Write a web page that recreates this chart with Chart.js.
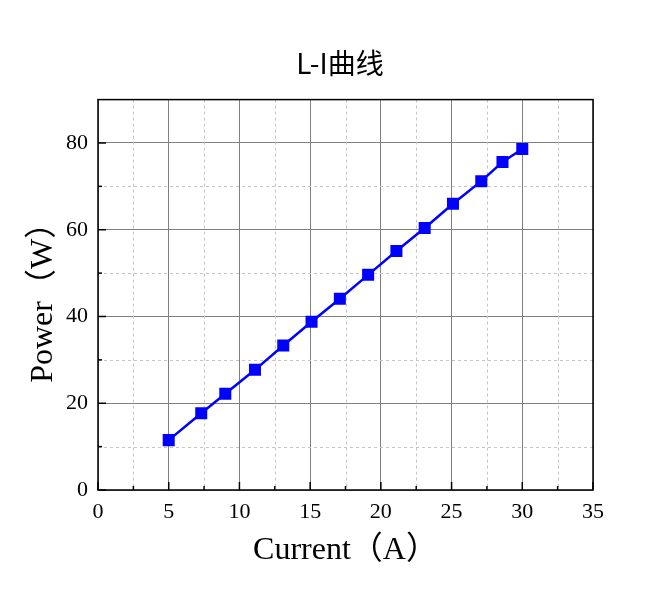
<!DOCTYPE html>
<html>
<head>
<meta charset="utf-8">
<title>L-I曲线</title>
<script src="https://cdn.jsdelivr.net/npm/chart.js@4.4.1/dist/chart.umd.min.js"></script>
<style>
    html, body { margin: 0; padding: 0; background: #fff; }
    #wrap { width: 666px; height: 590px; position: relative; }
</style>
</head>
<body>
<div id="wrap"><canvas id="chart"></canvas></div>
<script>
// values
const currentA = [5, 7.3, 9, 11.1, 13.1, 15.1, 17.1, 19.1, 21.1, 23.1, 25.1, 27.1, 28.6, 30];
const powerW   = [11.5, 17.7, 22.2, 27.7, 33.3, 38.8, 44.1, 49.6, 55.1, 60.4, 66.0, 71.2, 75.6, 78.6];

const xTickValues = [0, 5, 10, 15, 20, 25, 30, 35];
const yTickValues = [0, 20, 40, 60, 80];
const xRange = [0, 35];
const yRange = [0, 90];

const serif = "'Liberation Serif', 'Times New Roman', 'Noto Sans CJK SC', serif";

// minor values sit halfway between majors (and one past the last y major)
function minorValues(majors, max) {
    const out = [];
    const step = majors[1] - majors[0];
    for (let i = 0; i < majors.length; i++) {
        const m = majors[i] + step / 2;
        if (m < max) out.push(m);
    }
    return out;
}

// Origin-style frame: dotted minor grid, inward ticks, black box
const framePlugin = {
    id: 'frame',
    beforeDatasetsDraw(chart) {
        const {ctx, chartArea: a, scales: {x, y}} = chart;
        ctx.save();
        ctx.strokeStyle = '#c4c4c4';
        ctx.lineWidth = 1;
        ctx.setLineDash([3, 3]);
        minorValues(xTickValues, xRange[1]).forEach(v => {
            const px = Math.round(x.getPixelForValue(v)) + 0.5;
            ctx.beginPath(); ctx.moveTo(px, a.top); ctx.lineTo(px, a.bottom); ctx.stroke();
        });
        minorValues(yTickValues, yRange[1]).forEach(v => {
            const py = Math.round(y.getPixelForValue(v)) + 0.5;
            ctx.beginPath(); ctx.moveTo(a.left, py); ctx.lineTo(a.right, py); ctx.stroke();
        });
        ctx.restore();
    },
    afterDraw(chart) {
        const {ctx, chartArea: a, scales: {x, y}} = chart;
        ctx.save();
        ctx.strokeStyle = '#000';
        ctx.lineWidth = 1.5;
        ctx.setLineDash([]);
        // ticks pointing into the plot
        xTickValues.forEach(v => {
            const px = x.getPixelForValue(v);
            ctx.beginPath(); ctx.moveTo(px, a.bottom); ctx.lineTo(px, a.bottom - 8); ctx.stroke();
        });
        minorValues(xTickValues, xRange[1]).forEach(v => {
            const px = x.getPixelForValue(v);
            ctx.beginPath(); ctx.moveTo(px, a.bottom); ctx.lineTo(px, a.bottom - 4); ctx.stroke();
        });
        yTickValues.forEach(v => {
            const py = y.getPixelForValue(v);
            ctx.beginPath(); ctx.moveTo(a.left, py); ctx.lineTo(a.left + 8, py); ctx.stroke();
        });
        minorValues(yTickValues, yRange[1]).forEach(v => {
            const py = y.getPixelForValue(v);
            ctx.beginPath(); ctx.moveTo(a.left, py); ctx.lineTo(a.left + 4, py); ctx.stroke();
        });
        ctx.strokeRect(a.left, a.top, a.right - a.left, a.bottom - a.top);
        ctx.restore();
    }
};

const ctx = document.getElementById('chart').getContext('2d');

new Chart(ctx, {
    type: 'line',
    data: {
        datasets: [{
            label: 'Power',
            data: currentA.map((c, i) => ({x: c, y: powerW[i]})),
            borderColor: '#0000ff',
            backgroundColor: '#0000ff',
            borderWidth: 2.5,
            pointStyle: 'rect',
            pointRadius: 8.5,
            pointBorderWidth: 0,
            pointBackgroundColor: '#0000ff',
            tension: 0
        }]
    },
    options: {
        responsive: true,
        maintainAspectRatio: false,
        animation: false,
        layout: { padding: { left: 14, right: 0, top: 0, bottom: 0 } },
        plugins: {
            legend: { display: false },
            tooltip: { enabled: false },
            title: {
                display: true,
                text: 'L-I曲线',
                color: '#000',
                font: { family: "'Noto Sans CJK SC', 'Liberation Sans', sans-serif", size: 28, weight: 'normal', lineHeight: 1.2 },
                padding: { top: 47, bottom: 19 }
            }
        },
        scales: {
            x: {
                type: 'linear',
                min: xRange[0],
                max: xRange[1],
                afterBuildTicks: s => { s.ticks = xTickValues.map(v => ({value: v})); },
                afterFit: s => { s.height = 100; },
                grid: { color: '#808080', lineWidth: 1, drawTicks: false },
                border: { display: false },
                ticks: { color: '#000', padding: 9, font: { family: serif, size: 22 } },
                title: {
                    display: true,
                    text: 'Current（A）',
                    color: '#000',
                    font: { family: serif, size: 32, lineHeight: 1.2 },
                    padding: { top: 0, bottom: 20 }
                }
            },
            y: {
                type: 'linear',
                min: yRange[0],
                max: yRange[1],
                afterBuildTicks: s => { s.ticks = yTickValues.map(v => ({value: v})); },
                afterFit: s => { s.width = 84; },
                grid: { color: '#808080', lineWidth: 1, drawTicks: false },
                border: { display: false },
                ticks: { color: '#000', padding: 10, font: { family: serif, size: 22 } },
                title: {
                    display: true,
                    text: 'Power（W）',
                    color: '#000',
                    font: { family: serif, size: 32, lineHeight: 1.2 },
                    padding: { top: 10, bottom: 0 }
                }
            },
            // empty right-hand box keeps the plot narrow while the title stays centred
            spacer: {
                type: 'linear',
                position: 'right',
                afterFit: s => { s.width = 73; },
                grid: { display: false },
                border: { display: false },
                ticks: { display: false }
            }
        }
    },
    plugins: [framePlugin]
});
</script>
</body>
</html>
